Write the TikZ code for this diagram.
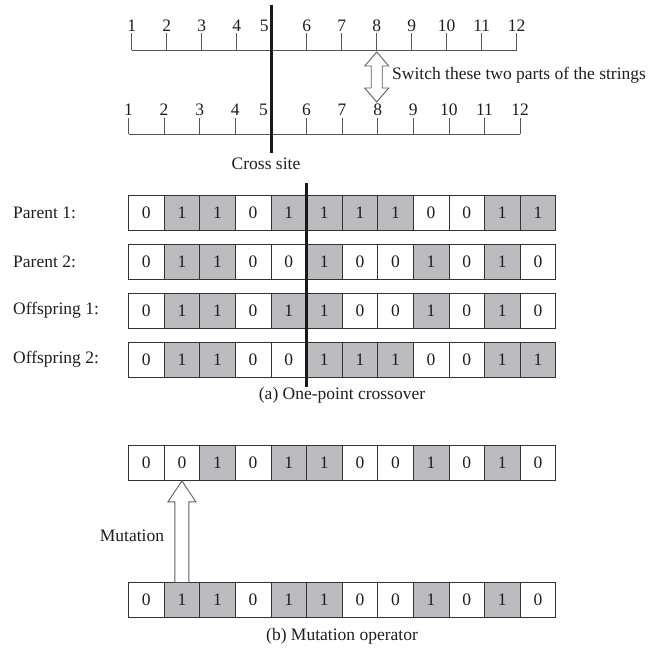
\documentclass[tikz,border=0pt]{standalone}
\usepackage{fontspec}
\setmainfont{Liberation Serif}
\usetikzlibrary{calc}
\definecolor{cellgray}{RGB}{188,188,192}
\definecolor{ink}{RGB}{30,30,30}
\definecolor{rulecol}{RGB}{85,85,85}
\definecolor{arrowcol}{RGB}{95,95,95}
\newcommand\bitrow[3]{%
  \foreach \b [count=\i] in {#3} {
    \node[bit\b] (#1\i) at ({128.5+35.6*(\i-0.5)}, #2) {\b};
  }}
\begin{document}
\begin{tikzpicture}[x=1pt,y=-1pt,
  txt/.style={font=\fontsize{17.5}{20}\selectfont, text=ink, inner sep=0pt},
  cell/.style={txt, draw=black!80, line width=0.8pt, minimum width=35.6pt, minimum height=35pt},
  bit0/.style={cell, fill=white},
  bit1/.style={cell, fill=cellgray},
  rulerline/.style={draw=rulecol, line width=0.8pt},
  cutline/.style={draw=black!90, line width=3pt},
  hollow/.style={draw=arrowcol, line width=0.9pt, fill=white, line join=miter}]
\useasboundingbox (0,0) rectangle (652,650);

% ruler 1
\foreach \i in {1,...,12} {
  \coordinate (ra\i) at ({131.7+35*(\i-1)}, 50);
  \draw[rulerline] (ra\i) -- ++(0,-17);
  \pgfmathsetmacro\dx{\i==5 ? -7.5 : 0}
  \node[txt, anchor=base] (na\i) at ({131.7+35*(\i-1)+\dx}, 31.5) {\i};
}
\draw[rulerline] (ra1) -- (ra12);

% ruler 2
\foreach \i in {1,...,12} {
  \coordinate (rb\i) at ({128.5+35.6*(\i-1)}, 134);
  \draw[rulerline] (rb\i) -- ++(0,-16);
  \pgfmathsetmacro\dx{\i==5 ? -7.5 : 0}
  \node[txt, anchor=base] (nb\i) at ({128.5+35.6*(\i-1)+\dx}, 115.5) {\i};
}
\draw[rulerline] (rb1) -- (rb12);

% cross site line (top)
\coordinate (c1top) at (271.7,5);
\coordinate (c1bot) at (271.7,153);
\draw[cutline] (c1top) -- (c1bot);
\node[txt] (cs) at (266,164) {Cross site};

% switch arrow
\coordinate (dtop) at ($(ra8)+(0,2)$);
\coordinate (dbot) at ($(ra8)+(0,52)$);
\draw[hollow] (dtop) -- ++(12,14) -- ++(-6.5,0) -- ($(dbot)+(5.5,-14)$) -- ++(6.5,0)
  -- (dbot) -- ++(-12,-14) -- ++(6.5,0) -- ($(dtop)+(-5.5,14)$) -- ++(-6.5,0) -- cycle;
\node[txt, anchor=west] (sw) at (392,75) {Switch these two parts of the strings};

% crossover rows
\node[txt, anchor=west] (lp1) at (13,212.5) {Parent 1:};
\node[txt, anchor=west] (lp2) at (13,261.5) {Parent 2:};
\node[txt, anchor=west] (lo1) at (13,310.5) {Offspring 1:};
\node[txt, anchor=west] (lo2) at (13,359.5) {Offspring 2:};
\bitrow{pa}{212.5}{0,1,1,0,1,1,1,1,0,0,1,1}
\bitrow{pb}{261.5}{0,1,1,0,0,1,0,0,1,0,1,0}
\bitrow{oa}{310.5}{0,1,1,0,1,1,0,0,1,0,1,0}
\bitrow{ob}{359.5}{0,1,1,0,0,1,1,1,0,0,1,1}

\coordinate (c2top) at ($(pa5.east)+(0,-29.5)$);
\coordinate (c2bot) at ($(ob5.east)+(0,27.5)$);
\draw[cutline] (c2top) -- (c2bot);
\node[txt] (capa) at (342,395) {(a) One-point crossover};

% mutation
\bitrow{mt}{463}{0,0,1,0,1,1,0,0,1,0,1,0}
\bitrow{mb}{600}{0,1,1,0,1,1,0,0,1,0,1,0}
\draw[hollow] ($(mb2.north)+(-7,0)$) -- ($(mt2.south)+(-7,21)$) -- ($(mt2.south)+(-14,21)$)
  -- (mt2.south) -- ($(mt2.south)+(14,21)$) -- ($(mt2.south)+(7,21)$) -- ($(mb2.north)+(7,0)$);
\node[txt] (mut) at (132,536) {Mutation};
\node[txt] (capb) at (342,636) {(b) Mutation operator};
\end{tikzpicture}
\end{document}
